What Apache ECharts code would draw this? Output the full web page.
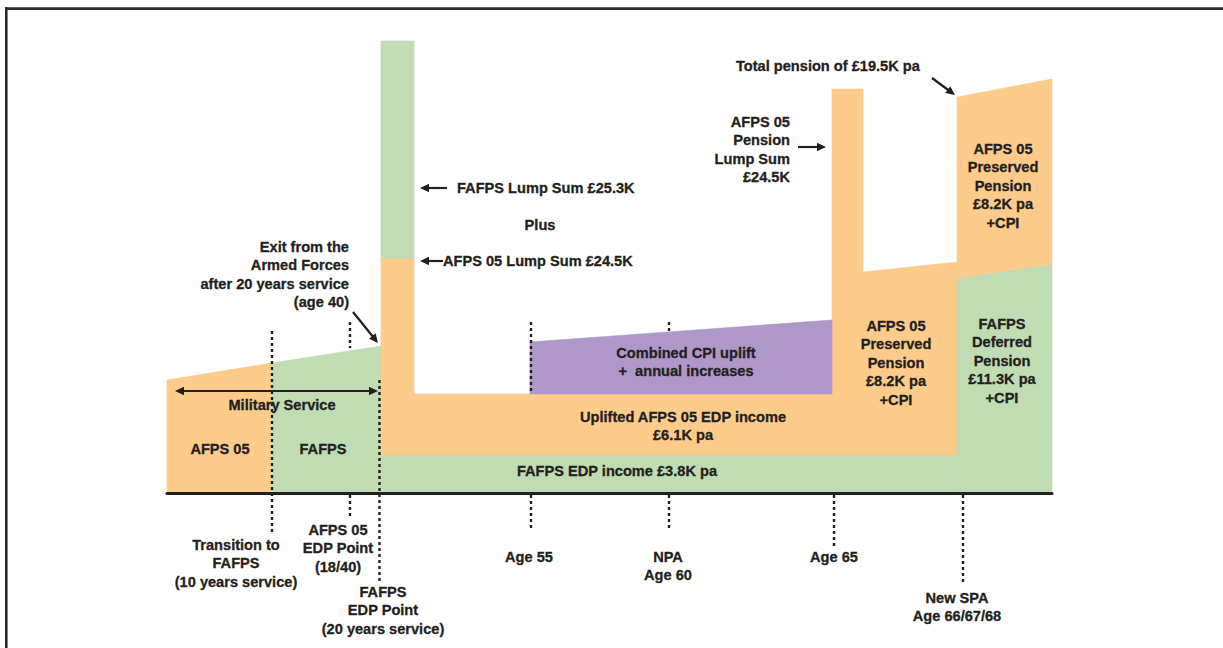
<!DOCTYPE html>
<html><head><meta charset="utf-8">
<script src="https://cdn.jsdelivr.net/npm/echarts@6/dist/echarts.min.js"></script>
<style>html,body{margin:0;padding:0;background:#fff}#c{width:1223px;height:648px}</style>
</head><body><div id="c"></div>
<script>
// ---- Data: schematic timeline position (t) and height (h, above the baseline) ----
const serviceAFPS05   = [[0,0],[0,113],[105,130],[105,0]];
const serviceFAFPS    = [[105,0],[105,130],[214,147],[214,0]];
const fafpsEdpIncome  = [[214,0],[214,38],[790,38],[790,0]];
const afps05Income    = [[214,38],[214,235],[247,235],[247,99],[665,99],[665,404],[696,404],[696,221],[790,231],[790,38]];
const fafpsLumpSum    = [[214,235],[214,452],[247,452],[247,235]];
const cpiUplift       = [[363,99],[363,151],[665,173],[665,99]];
const fafpsDeferred   = [[790,0],[790,215],[885,229],[885,0]];
const afps05Preserved = [[790,215],[790,396],[885,414],[885,229]];
// milestone dotted markers: [t, top h, bottom h]
const milestoneMarks  = [[105,162,-39],[183,171,145],[183,-2,-25],[212.5,113,-89],[364,171,99],[364,-2,-38],[502,171,160],[502,-2,-38],[667,-2,-53],[796,-2,-90]];

const ORANGE='#FDCB8A', GREEN='#BFDCB2', PURPLE='#AE98C9', INK='#231F20';
const FONT={fontFamily:'"Liberation Sans", Arial, Helvetica, sans-serif', fontWeight:'bold', fontSize:14.6, stroke:INK, lineWidth:0.3};
const LH=18.4;

function poly(name, pts, color){
  return {type:'custom', name, coordinateSystem:'cartesian2d', data:pts, encode:{x:0,y:1}, silent:true, z:2,
    renderItem:function(params, api){
      if(params.dataIndex!==0) return null;
      return {type:'polygon', shape:{points:pts.map(p=>api.coord(p))}, style:{fill:color, stroke:color, lineWidth:0.6}};
    }};
}

const chart = echarts.init(document.getElementById('c'), null, {renderer:'svg'});

function label(lines, x, yFirst, align){
  return {type:'text', x:x, y:yFirst+(lines.length-1)*LH/2, silent:true, z:20,
    style:Object.assign({text:lines.join('\n'), fill:INK, align:align||'center', verticalAlign:'middle', lineHeight:LH}, FONT)};
}
function arrow(x1,y1,x2,y2,both){
  const els=[]; const L=9, W=4.2;
  const dx=x2-x1, dy=y2-y1, d=Math.hypot(dx,dy), ux=dx/d, uy=dy/d, nx=-uy, ny=ux;
  function head(tx,ty,sx,sy){
    const bx=tx-sx*L, by=ty-sy*L;
    els.push({type:'polygon', silent:true, z:20, shape:{points:[[tx,ty],[bx+nx*W,by+ny*W],[bx-nx*W,by-ny*W]]}, style:{fill:INK}});
    return [bx,by];
  }
  const e=head(x2,y2,ux,uy);
  let s=[x1,y1];
  if(both){ s=head(x1,y1,-ux,-uy); }
  els.push({type:'line', silent:true, z:20, shape:{x1:s[0],y1:s[1],x2:e[0]+ux,y2:e[1]+uy}, style:{stroke:INK, lineWidth:2.2}});
  return els;
}

const graphics = [
  {type:'line', silent:true, z:30, shape:{x1:5,y1:8.6,x2:1223,y2:8.6}, style:{stroke:'#2a2a2a', lineWidth:2.6}},
  {type:'line', silent:true, z:30, shape:{x1:6.3,y1:7.3,x2:6.3,y2:648}, style:{stroke:'#2a2a2a', lineWidth:2.6}},
  label(['Exit from the','Armed Forces','after 20 years service','(age 40)'], 349, 247, 'right'),
  label(['FAFPS Lump Sum £25.3K'], 457, 188, 'left'),
  label(['Plus'], 540, 225),
  label(['AFPS 05 Lump Sum £24.5K'], 443, 261, 'left'),
  label(['Total pension of £19.5K pa'], 736, 66, 'left'),
  label(['AFPS 05','Pension','Lump Sum','£24.5K'], 790, 122, 'right'),
  label(['AFPS 05','Preserved','Pension','£8.2K pa','+CPI'], 1003, 149),
  label(['AFPS 05','Preserved','Pension','£8.2K pa','+CPI'], 896, 326),
  label(['FAFPS','Deferred','Pension','£11.3K pa','+CPI'], 1002, 324),
  label(['Combined CPI uplift','+  annual increases'], 686, 353),
  label(['Uplifted AFPS 05 EDP income','£6.1K pa'], 683, 417),
  label(['FAFPS EDP income £3.8K pa'], 617, 471),
  label(['Military Service'], 282, 405),
  label(['AFPS 05'], 220, 449),
  label(['FAFPS'], 323, 449),
  label(['Transition to','FAFPS','(10 years service)'], 236, 545),
  label(['AFPS 05','EDP Point','(18/40)'], 338, 530),
  label(['FAFPS','EDP Point','(20 years service)'], 383, 592),
  label(['Age 55'], 529, 557),
  label(['NPA','Age 60'], 668, 557),
  label(['Age 65'], 834, 557),
  label(['New SPA','Age 66/67/68'], 957, 598)
].concat(
  arrow(353,312,378,343),
  arrow(447,188,420,188),
  arrow(443,261,420,261),
  arrow(798,147,826,147),
  arrow(932,78,955,95),
  arrow(175,391,378,391,true)
);

chart.setOption({
  animation:false,
  backgroundColor:'#fff',
  grid:{left:167, right:171, top:0, bottom:0},
  xAxis:{type:'value', min:0, max:885, z:10, axisLine:{show:true, onZero:true, lineStyle:{color:INK, width:3}}, axisTick:{show:false}, axisLabel:{show:false}, splitLine:{show:false}},
  yAxis:{type:'value', min:-155, max:493, show:false, splitLine:{show:false}},
  series:[
    poly('AFPS 05 service', serviceAFPS05, ORANGE),
    poly('FAFPS service', serviceFAFPS, GREEN),
    poly('FAFPS EDP income', fafpsEdpIncome, GREEN),
    poly('AFPS 05 income', afps05Income, ORANGE),
    poly('FAFPS lump sum', fafpsLumpSum, GREEN),
    poly('CPI uplift', cpiUplift, PURPLE),
    poly('FAFPS deferred pension', fafpsDeferred, GREEN),
    poly('AFPS 05 preserved pension', afps05Preserved, ORANGE),
    {type:'custom', name:'milestones', coordinateSystem:'cartesian2d', data:milestoneMarks, encode:{x:0,y:[1,2]}, silent:true, z:5,
      renderItem:function(params, api){
        const a=api.coord([api.value(0),api.value(1)]), b=api.coord([api.value(0),api.value(2)]);
        return {type:'line', shape:{x1:a[0],y1:a[1],x2:b[0],y2:b[1]}, style:{stroke:INK, lineWidth:2.4, lineDash:[3,3]}};
      }}
  ],
  graphic:{elements:graphics}
});
</script></body></html>
